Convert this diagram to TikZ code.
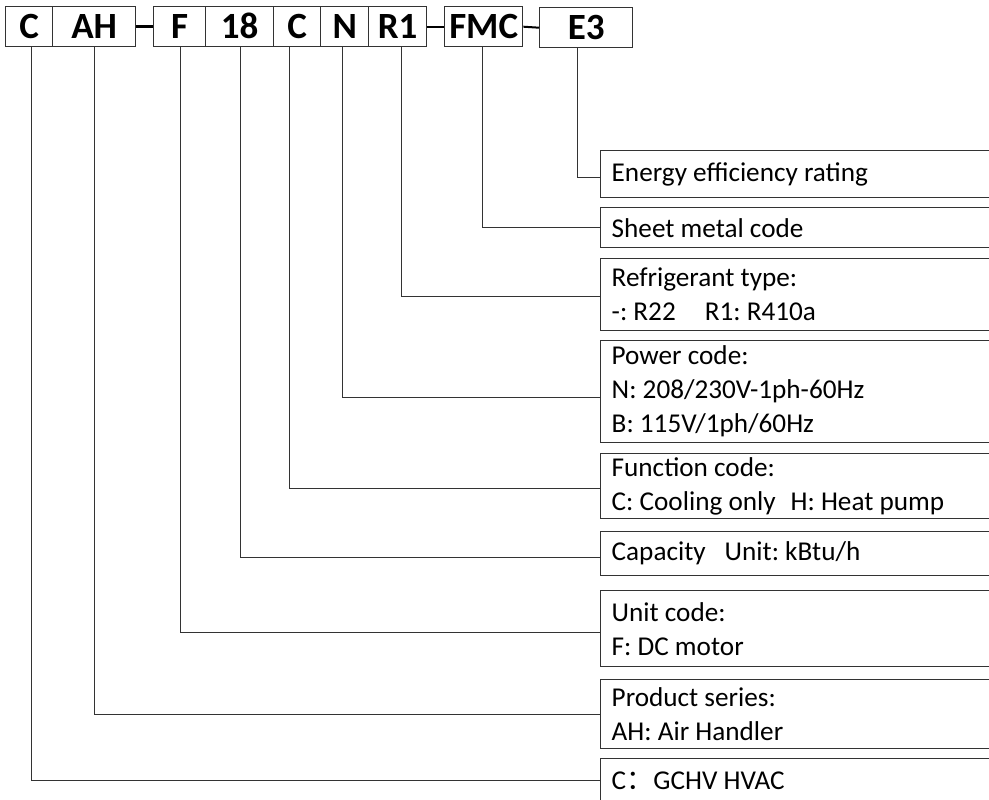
\documentclass[tikz,border=0pt]{standalone}
\usepackage{fontspec}
\setmainfont[Numbers=Lining]{Carlito}
\newfontfamily\cjk{Noto Sans CJK SC}
\frenchspacing

\begin{document}
\begin{tikzpicture}[x=1pt, y=-1pt,
    code/.style={draw=black!80, line width=1.4pt, anchor=north west, minimum height=40pt,
      inner sep=0pt, text height=24pt, text depth=0pt,
      font=\bfseries\fontsize{37}{37}\selectfont},
    desc/.style={draw=black!80, line width=1.4pt, anchor=north west, minimum width=400pt,
      text width=378pt, inner xsep=11pt, inner ysep=0pt, align=flush left,
      font=\fontsize{27.2}{34}\selectfont},
    link/.style={draw=black!80, line width=1.1pt}]
    \useasboundingbox (0,0) rectangle (989,800);
    \clip (0,0) rectangle (989,800);

    % model code
    \node[code, minimum width=47pt] (cser) at (5,6) {C};
    \node[code, minimum width=83pt] (ah) at (52,6) {AH};
    \node[code, minimum width=52pt] (f) at (153,6) {F};
    \node[code, minimum width=68pt] (cap18) at (205,6) {18};
    \node[code, minimum width=47pt] (cfun) at (273,6) {C};
    \node[code, minimum width=48pt] (n) at (320,6) {N};
    \node[code, minimum width=58pt] (r1) at (368,6) {R1};
    \node[code, minimum width=78pt] (fmc) at (444,6) {FMC};
    \node[code, minimum width=93pt] (e3) at (539,7) {E3};

    \draw[line width=3pt] (ah.east) -- (f.west);
    \draw[line width=2pt] (r1.east) -- (fmc.west);
    \draw[line width=2pt] (fmc.east) -- (e3.west);

    % meanings
    \node[desc, minimum height=47pt] (eff) at (600,150) {Energy efficiency rating};
    \node[desc, minimum height=40pt] (sheet) at (600,207) {Sheet metal code};
    \node[desc, minimum height=72pt] (refr) at (600,258) {Refrigerant type:\\-: R22\hspace{29pt}R1: R410a};
    \node[desc, minimum height=102pt] (power) at (600,340) {Power code:\\N: 208/230V-1ph-60Hz\\B: 115V/1ph/60Hz};
    \node[desc, minimum height=65pt] (func) at (600,453) {Function code:\\C: Cooling only\hspace{15pt}H: Heat pump};
    \node[desc, minimum height=44pt] (capa) at (600,531) {Capacity\hspace{19pt}Unit: kBtu/h};
    \node[desc, minimum height=76pt] (unit) at (600,590) {Unit code:\\F: DC motor};
    \node[desc, minimum height=69pt] (prod) at (600,679) {Product series:\\AH: Air Handler};
    \node[desc, minimum height=44pt] (brand) at (600,758) {C{\cjk ：}GCHV HVAC};

    \draw[link] ([xshift=-8.5pt]e3.south) |- ([yshift=-3.5pt]eff.west);
    \draw[link] ([xshift=-1pt]fmc.south) |- (sheet.west);
    \draw[link] ([xshift=4pt]r1.south) |- ([yshift=-2pt]refr.west);
    \draw[link] ([xshift=-2pt]n.south) |- ([yshift=-6pt]power.west);
    \draw[link] ([xshift=-7.5pt]cfun.south) |- ([yshift=-2.5pt]func.west);
    \draw[link] ([xshift=1pt]cap18.south) |- ([yshift=-4pt]capa.west);
    \draw[link] ([xshift=1pt]f.south) |- ([yshift=-4pt]unit.west);
    \draw[link] (ah.south) |- (prod.west);
    \draw[link] ([xshift=2.5pt]cser.south) |- (brand.west);
\end{tikzpicture}
\end{document}
